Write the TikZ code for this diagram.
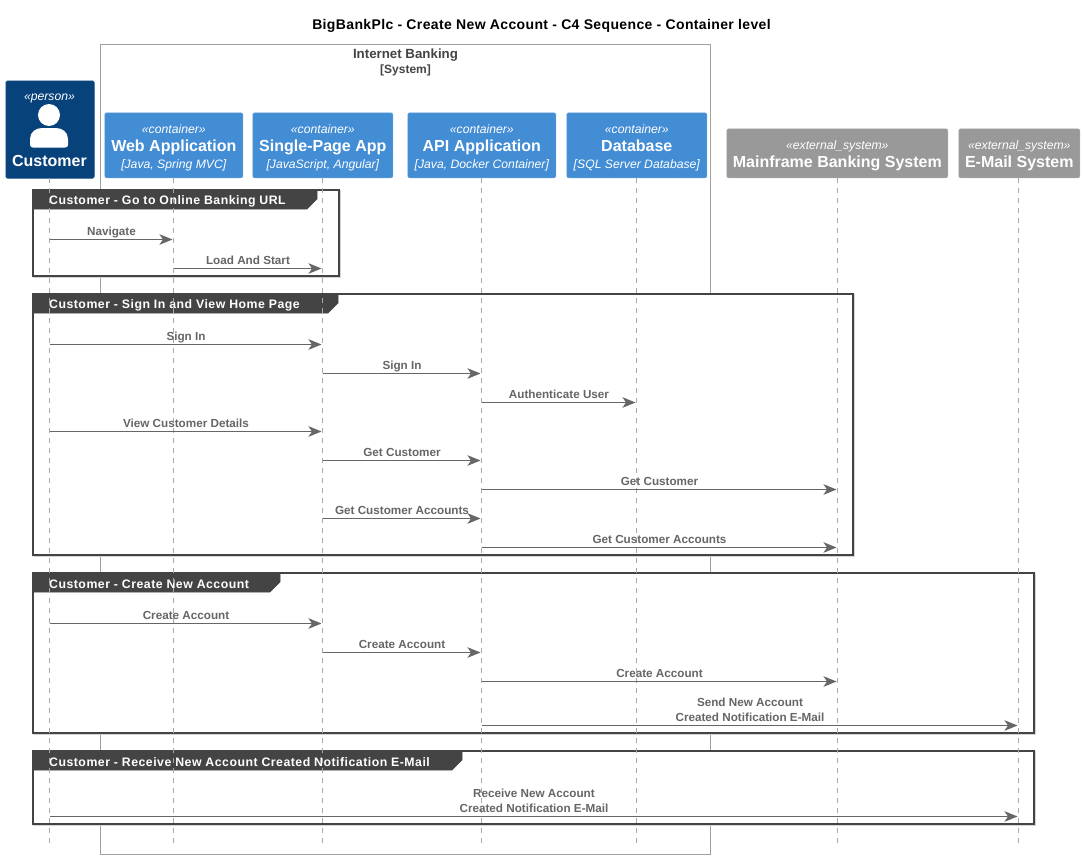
\documentclass[tikz,border=0pt]{standalone}
\usepackage{fontspec}
\setmainfont{Liberation Sans}
\usetikzlibrary{arrows.meta}
\definecolor{personblue}{HTML}{08427B}
\definecolor{contblue}{HTML}{438DD5}
\definecolor{extgray}{HTML}{999999}
\definecolor{framedark}{HTML}{444444}
\definecolor{msggray}{HTML}{666666}
\definecolor{linegray}{HTML}{A8A8A8}
\definecolor{sysgray}{HTML}{A0A0A0}
\definecolor{shadowgray}{HTML}{D4D4D4}
\newcommand{\stereofont}{\fontsize{12.2}{17}\selectfont\itshape}
\newcommand{\namefont}{\fontsize{16}{17}\selectfont\bfseries}
\newcommand{\techfont}{\fontsize{12.2}{17}\selectfont\itshape}
\newcommand{\topstrut}{\rule{0pt}{14pt}}
\tikzset{
  actorbox/.style={rectangle,rounded corners=2pt,draw=#1!85!white,fill=#1,text=white,inner sep=0pt,align=center,
     font=\fontsize{12}{17}\selectfont,line width=.6pt},
  lifeline/.style={draw=linegray,line width=.8pt,dash pattern=on 5pt off 5pt},
  msgline/.style={draw=msggray,line width=1pt,shorten >=1pt,-{Stealth[length=13pt,width=10.5pt,inset=3.5pt,fill=msggray]}},
  msglabel/.style={text=msggray,font=\fontsize{11.7}{15}\selectfont\bfseries,align=center,inner sep=0pt,text depth=3pt,anchor=south},
  framebox/.style={draw=framedark,line width=1.5pt,fill=white},
  frameshadow/.style={draw=shadowgray,line width=1.5pt},
  frametab/.style={fill=framedark,draw=framedark,line width=.6pt},
  tablabel/.style={text=white,font=\fontsize{12.3}{14}\selectfont\bfseries\addfontfeature{LetterSpace=4},anchor=west,inner sep=0pt},
  sysbox/.style={draw=sysgray,line width=1pt},
}
% name, x1, y1, x2, y2, tab right, label
\newcommand{\groupframe}[7]{%
  \draw[frameshadow] (#2+1,#3+1) rectangle (#4+1,#5+1);
  \draw[framebox] (#2,#3) rectangle (#4,#5);
  \fill[frametab,draw=framedark] (#2,#3) -- (#6,#3) -- (#6,#3+9) -- (#6-10,#3+19) -- (#2,#3+19) -- cycle;
  \node[tablabel] (#1) at (#2+16,#3+11) {#7};
}
% from, to, y, label
\newcommand{\msg}[4]{%
  \draw[msgline] (#1 |- 0,#3) -- (#2 |- 0,#3);
  \path (#1 |- 0,#3-1.3) -- node[msglabel] {#4} (#2 |- 0,#3-1.3);
}
\begin{document}
\begin{tikzpicture}[x=1pt,y=-1pt]
\useasboundingbox[fill=white] (0,0) rectangle (1084,859);

\node[font=\fontsize{14}{16}\selectfont\bfseries\addfontfeature{LetterSpace=2.6},inner sep=0pt] (title) at (541.5,26) {BigBankPlc - Create New Account - C4 Sequence - Container level};

% system boundary
\draw[sysbox] (100.5,44.5) rectangle (710.5,854.5);
\node[text=framedark,font=\fontsize{13.3}{15}\selectfont\bfseries,align=center,inner sep=0pt] (sys) at (405.5,62) {Internet Banking\\{\fontsize{12}{15}\selectfont [System]}};

% frames
\groupframe{g1}{33}{190}{339}{276}{317}{Customer - Go to Online Banking URL}
\groupframe{g2}{33}{294}{853}{555}{338}{Customer - Sign In and View Home Page}
\groupframe{g3}{33}{573}{1034}{733}{280}{Customer - Create New Account}
\groupframe{g4}{33}{751}{1034}{824}{462}{Customer - Receive New Account Created Notification E-Mail}

% participants
\node[actorbox=personblue,minimum width=88.5pt,minimum height=97.5pt,anchor=north west] (cust) at (5.5,80.5) {};
\node[text=white,font=\stereofont,inner sep=0pt] (custst) at (49.5,98) {«person»};
\node[text=white,font=\namefont,inner sep=0pt] (custnm) at (49.5,161) {Customer};
\fill[white] (49,115) circle (11);
\fill[white] (30,144.5) -- (30,139) .. controls (30,132) and (36,128) .. (42,128) -- (56,128) .. controls (62,128) and (68,132) .. (68,139) -- (68,144.5) .. controls (68,146.5) and (67,147.5) .. (65,147.5) -- (33,147.5) .. controls (31,147.5) and (30,146.5) .. (30,144.5) -- cycle;

\node[actorbox=contblue,minimum width=138pt,minimum height=65pt,anchor=north west] (web) at (104.5,112.5) {\topstrut{\stereofont «container»}\\[1pt]{\namefont Web Application}\\{\techfont [Java, Spring MVC]}};
\node[actorbox=contblue,minimum width=140pt,minimum height=65pt,anchor=north west] (spa) at (252.5,112.5) {\topstrut{\stereofont «container»}\\[1pt]{\namefont Single-Page App}\\{\techfont [JavaScript, Angular]}};
\node[actorbox=contblue,minimum width=148pt,minimum height=65pt,anchor=north west] (api) at (407.5,112.5) {\topstrut{\stereofont «container»}\\[1pt]{\namefont API Application}\\{\techfont [Java, Docker Container]}};
\node[actorbox=contblue,minimum width=140pt,minimum height=65pt,anchor=north west] (db) at (566.5,112.5) {\topstrut{\stereofont «container»}\\[1pt]{\namefont Database}\\{\techfont [SQL Server Database]}};
\node[actorbox=extgray,minimum width=221pt,minimum height=49pt,anchor=north west] (mf) at (726.5,128.5) {\topstrut{\stereofont «external\_system»}\\[1pt]{\namefont Mainframe Banking System}};
\node[actorbox=extgray,minimum width=121pt,minimum height=49pt,anchor=north west] (mail) at (958.5,128.5) {\topstrut{\stereofont «external\_system»}\\[1pt]{\namefont E-Mail System}};

% lifelines
\coordinate (Lc) at (49.5,178);
\coordinate (Lw) at (173.5,178);
\coordinate (Ls) at (322.5,178);
\coordinate (La) at (481.5,178);
\coordinate (Ld) at (636.5,178);
\coordinate (Lm) at (837.5,178);
\coordinate (Le) at (1018.5,178);
\foreach \n in {Lc,Lw,Ls,La,Ld,Lm,Le}{\draw[lifeline] (\n) -- (\n |- 0,845);}

% messages
\msg{Lc}{Lw}{239.5}{Navigate}
\msg{Lw}{Ls}{268.5}{Load And Start}
\msg{Lc}{Ls}{344.5}{Sign In}
\msg{Ls}{La}{373.5}{Sign In}
\msg{La}{Ld}{402.5}{Authenticate User}
\msg{Lc}{Ls}{431.5}{View Customer Details}
\msg{Ls}{La}{460.5}{Get Customer}
\msg{La}{Lm}{489.5}{Get Customer}
\msg{Ls}{La}{518.5}{Get Customer Accounts}
\msg{La}{Lm}{547.5}{Get Customer Accounts}
\msg{Lc}{Ls}{623.5}{Create Account}
\msg{Ls}{La}{652.5}{Create Account}
\msg{La}{Lm}{681.5}{Create Account}
\msg{La}{Le}{725.5}{Send New Account\\Created Notification E-Mail}
\msg{Lc}{Le}{816.5}{Receive New Account\\Created Notification E-Mail}
\end{tikzpicture}
\end{document}
